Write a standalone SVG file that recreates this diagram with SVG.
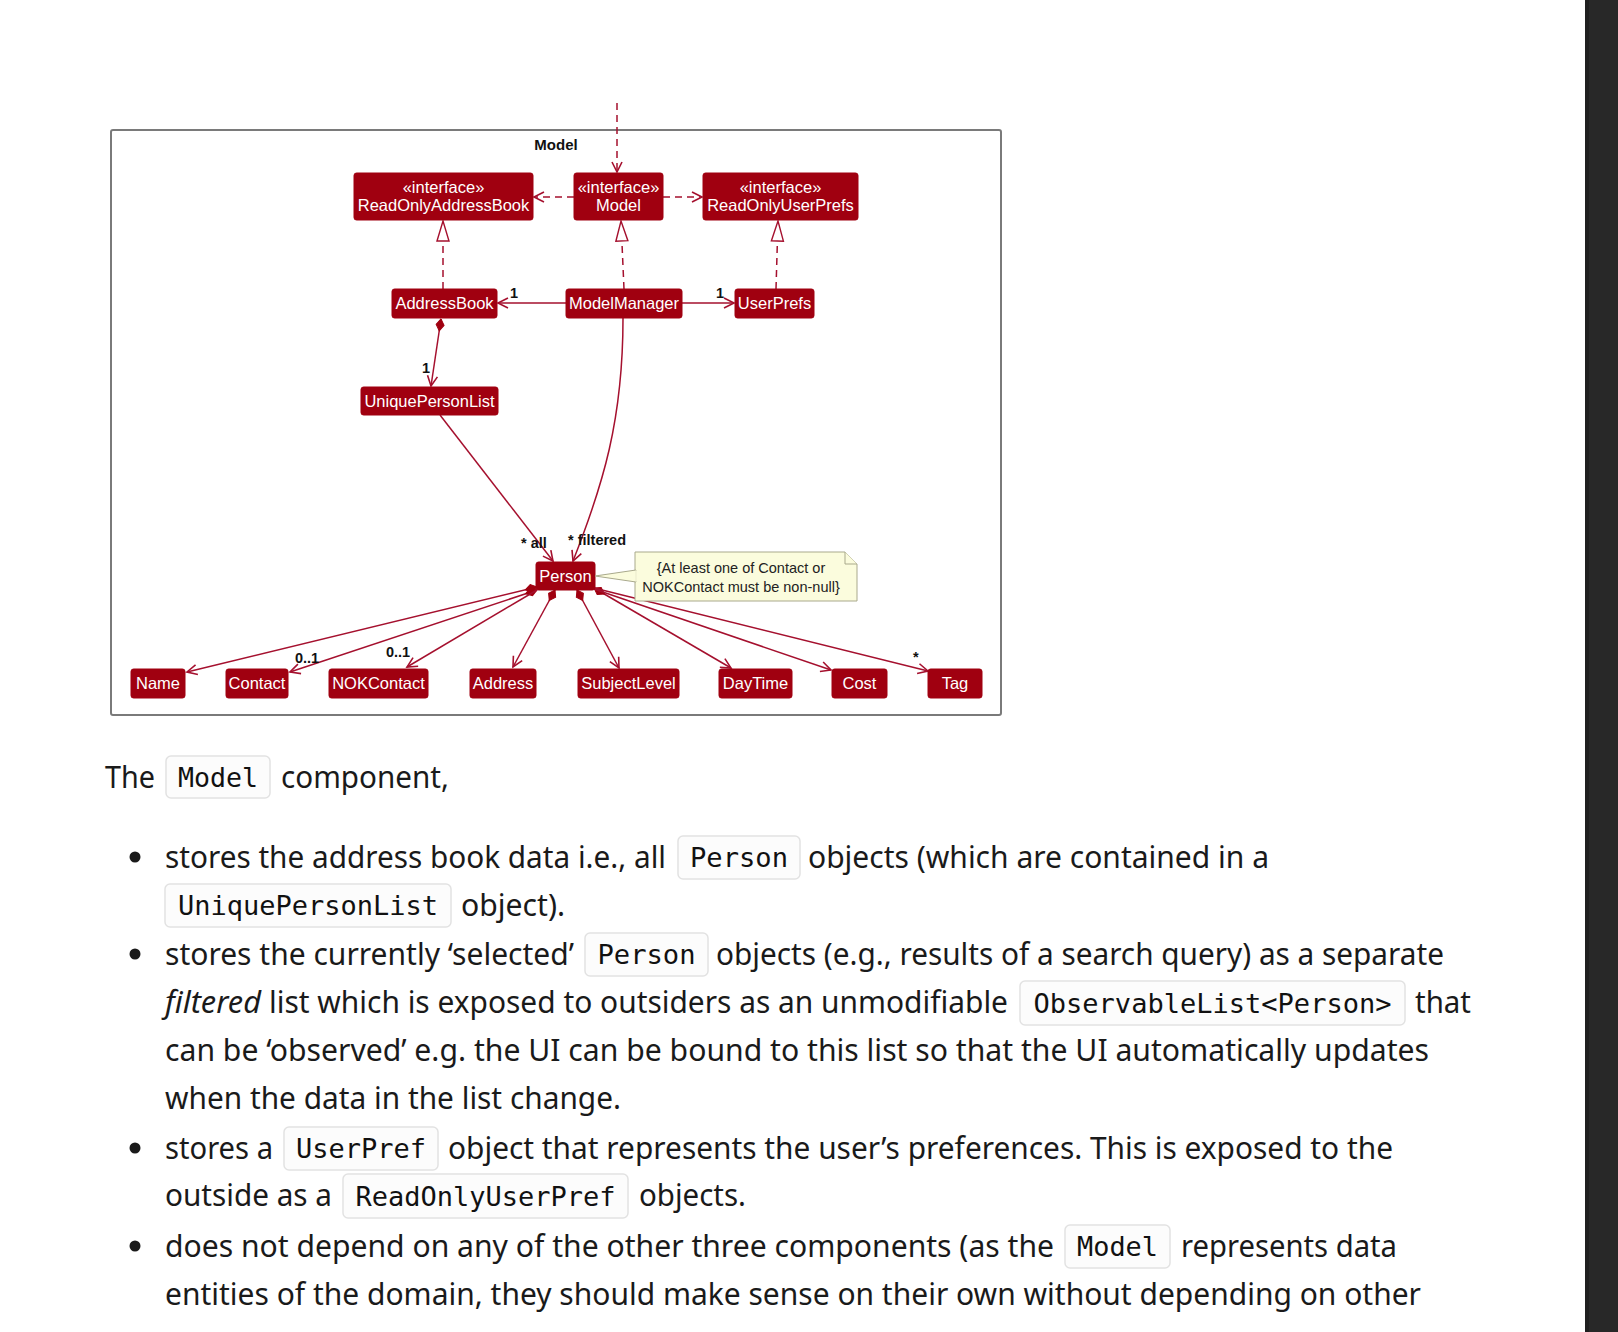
<svg xmlns="http://www.w3.org/2000/svg" width="1618" height="1332" viewBox="0 0 1618 1332">
<style>
.box{fill:#A00010;stroke:#A00010;stroke-width:1}
.bt{font-family:"Liberation Sans",Arial,sans-serif;font-size:16.5px;fill:#ffffff;text-anchor:middle}
.lbl{font-family:"Liberation Sans",Arial,sans-serif;font-size:14.5px;font-weight:bold;fill:#111}
.ln{fill:none;stroke:#A5102E;stroke-width:1.5}
.dash{stroke-dasharray:7,5}
.body{font-family:"Noto Sans","Open Sans",sans-serif;font-size:30px;fill:#1a1a1a}
.code{font-family:"DejaVu Sans Mono","Liberation Mono",monospace;font-size:27px;fill:#111;text-anchor:middle}
.cbox{fill:#fcfcfc;stroke:#e2e2e2;stroke-width:1.5}
.note{fill:#FBFCDD;stroke:#A9A98C;stroke-width:1}
.nt{font-family:"Liberation Sans",Arial,sans-serif;font-size:14.5px;fill:#222;text-anchor:middle}
</style>
<defs>
<marker id="arr" markerUnits="userSpaceOnUse" markerWidth="14" markerHeight="14" refX="11" refY="6" orient="auto" viewBox="0 0 14 12">
<path d="M1,1 L11,6 L1,11" fill="none" stroke="#A5102E" stroke-width="1.6"/>
</marker>
<marker id="tri" markerUnits="userSpaceOnUse" markerWidth="22" markerHeight="16" refX="21" refY="7" orient="auto" viewBox="0 0 22 14">
<path d="M1,1 L21,7 L1,13 Z" fill="#ffffff" stroke="#A5102E" stroke-width="1.4"/>
</marker>
<marker id="dia" markerUnits="userSpaceOnUse" markerWidth="14" markerHeight="10" refX="0.5" refY="5" orient="auto" viewBox="0 0 14 10">
<path d="M0.5,5 L6.5,1 L12.5,5 L6.5,9 Z" fill="#A00010" stroke="#A00010" stroke-width="1"/>
</marker>
</defs>
<rect x="0" y="0" width="1618" height="1332" fill="#ffffff"/>
<rect x="1585" y="0" width="33" height="1332" fill="#282828"/>
<rect x="1585" y="0" width="4" height="1332" fill="#1f1f1f"/>

<g id="frame">
<rect x="111" y="130" width="890" height="585" rx="2" fill="none" stroke="#7a7a7a" stroke-width="2"/>
<text x="556" y="150" font-family="Liberation Sans, Arial, sans-serif" font-size="15" font-weight="bold" fill="#111" text-anchor="middle">Model</text>
</g>

<g id="connectors">
<path class="ln dash" d="M617,103 L617,172" marker-end="url(#arr)"/>
<path class="ln dash" d="M574,197 L534,197" marker-end="url(#arr)"/>
<path class="ln dash" d="M663,197 L702,197" marker-end="url(#arr)"/>
<path class="ln dash" d="M443,289 L443,221" marker-end="url(#tri)"/>
<path class="ln dash" d="M624,289 L621,221" marker-end="url(#tri)"/>
<path class="ln dash" d="M776,289 L778,221" marker-end="url(#tri)"/>
<path class="ln" d="M566,303 L498,303" marker-end="url(#arr)"/>
<path class="ln" d="M682,303 L734,303" marker-end="url(#arr)"/>
<path class="ln" d="M441,319 L431,386" marker-start="url(#dia)" marker-end="url(#arr)"/>
<path class="ln" d="M440,415 L553,561" marker-end="url(#arr)"/>
<path class="ln" d="M623,318 C623,420 603,485 573,561" marker-end="url(#arr)"/>
<path class="ln" d="M537,587 L187,672" marker-start="url(#dia)" marker-end="url(#arr)"/>
<path class="ln" d="M537,590 L290,672" marker-start="url(#dia)" marker-end="url(#arr)"/>
<path class="ln" d="M537,590 L407,667" marker-end="url(#arr)"/>
<path class="ln" d="M555,590 L513,667" marker-start="url(#dia)" marker-end="url(#arr)"/>
<path class="ln" d="M577,590 L619,668" marker-start="url(#dia)" marker-end="url(#arr)"/>
<path class="ln" d="M594,588 L731,668" marker-start="url(#dia)" marker-end="url(#arr)"/>
<path class="ln" d="M594,589 L831,670" marker-end="url(#arr)"/>
<path class="ln" d="M594,588 L928,671" marker-end="url(#arr)"/>
<text class="lbl" x="510" y="298">1</text>
<text class="lbl" x="716" y="298">1</text>
<text class="lbl" x="422" y="373">1</text>
<text class="lbl" x="521" y="548">* all</text>
<text class="lbl" x="568" y="545">* filtered</text>
<text class="lbl" x="295" y="663">0..1</text>
<text class="lbl" x="386" y="657">0..1</text>
<text class="lbl" x="913" y="662">*</text>
</g>

<g id="ReadOnlyAddressBook">
<rect class="box" x="354" y="173" width="179" height="47" rx="2.5"/>
<text class="bt" x="443.5" y="193">«interface»</text>
<text class="bt" x="443.5" y="211">ReadOnlyAddressBook</text>
</g>
<g id="ModelInterface">
<rect class="box" x="574" y="173" width="89" height="47" rx="2.5"/>
<text class="bt" x="618.5" y="193">«interface»</text>
<text class="bt" x="618.5" y="211">Model</text>
</g>
<g id="ReadOnlyUserPrefs">
<rect class="box" x="703" y="173" width="155" height="47" rx="2.5"/>
<text class="bt" x="780.5" y="193">«interface»</text>
<text class="bt" x="780.5" y="211">ReadOnlyUserPrefs</text>
</g>
<g id="AddressBook">
<rect class="box" x="392" y="289" width="105" height="29" rx="2.5"/>
<text class="bt" x="444.5" y="309">AddressBook</text>
</g>
<g id="ModelManager">
<rect class="box" x="566" y="289" width="116" height="29" rx="2.5"/>
<text class="bt" x="624" y="309">ModelManager</text>
</g>
<g id="UserPrefs">
<rect class="box" x="735" y="289" width="79" height="29" rx="2.5"/>
<text class="bt" x="774.5" y="309">UserPrefs</text>
</g>
<g id="UniquePersonList">
<rect class="box" x="361" y="387" width="137" height="28" rx="2.5"/>
<text class="bt" x="429.5" y="407">UniquePersonList</text>
</g>
<g id="Person">
<rect class="box" x="536" y="562" width="59" height="28" rx="2.5"/>
<text class="bt" x="565.5" y="582">Person</text>
</g>
<g id="Note">
<path class="note" d="M635,552 L845,552 L857,564 L857,601 L635,601 Z"/>
<path class="note" d="M845,552 L845,564 L857,564"/>
<polygon points="595,576 636,570 636,582" fill="#FBFCDD" stroke="#A9A98C" stroke-width="1"/>
<line x1="636" y1="570.6" x2="636" y2="581.4" stroke="#FBFCDD" stroke-width="1.6"/>
<text class="nt" x="741" y="573">{At least one of Contact or</text>
<text class="nt" x="741" y="592">NOKContact must be non-null}</text>
</g>
<g id="Name">
<rect class="box" x="131" y="669" width="54" height="29" rx="2.5"/>
<text class="bt" x="158" y="689">Name</text>
</g>
<g id="Contact">
<rect class="box" x="226" y="669" width="62" height="29" rx="2.5"/>
<text class="bt" x="257" y="689">Contact</text>
</g>
<g id="NOKContact">
<rect class="box" x="329" y="669" width="99" height="29" rx="2.5"/>
<text class="bt" x="378.5" y="689">NOKContact</text>
</g>
<g id="Address">
<rect class="box" x="470" y="669" width="66" height="29" rx="2.5"/>
<text class="bt" x="503" y="689">Address</text>
</g>
<g id="SubjectLevel">
<rect class="box" x="578" y="669" width="101" height="29" rx="2.5"/>
<text class="bt" x="628.5" y="689">SubjectLevel</text>
</g>
<g id="DayTime">
<rect class="box" x="719" y="669" width="73" height="29" rx="2.5"/>
<text class="bt" x="755.5" y="689">DayTime</text>
</g>
<g id="Cost">
<rect class="box" x="832" y="669" width="55" height="29" rx="2.5"/>
<text class="bt" x="859.5" y="689">Cost</text>
</g>
<g id="Tag">
<rect class="box" x="928" y="669" width="54" height="29" rx="2.5"/>
<text class="bt" x="955" y="689">Tag</text>
</g>

<g id="text">
<rect class="cbox" x="166" y="756" width="104" height="42" rx="5"/>
<rect class="cbox" x="678" y="836" width="122" height="43" rx="5"/>
<rect class="cbox" x="165" y="884" width="286" height="43" rx="5"/>
<rect class="cbox" x="585" y="933" width="123" height="43" rx="5"/>
<rect class="cbox" x="1020" y="981" width="385" height="44" rx="5"/>
<rect class="cbox" x="284" y="1127" width="154" height="43" rx="5"/>
<rect class="cbox" x="343" y="1174" width="285" height="44" rx="5"/>
<rect class="cbox" x="1065" y="1225" width="105" height="43" rx="5"/>

<text class="code" x="218" y="787" textLength="80" lengthAdjust="spacingAndGlyphs">Model</text>
<text class="code" x="739" y="867" textLength="98" lengthAdjust="spacingAndGlyphs">Person</text>
<text class="code" x="308" y="915" textLength="260" lengthAdjust="spacingAndGlyphs">UniquePersonList</text>
<text class="code" x="646.5" y="964" textLength="98" lengthAdjust="spacingAndGlyphs">Person</text>
<text class="code" x="1212.5" y="1013" textLength="358" lengthAdjust="spacingAndGlyphs">ObservableList&lt;Person&gt;</text>
<text class="code" x="361" y="1158" textLength="130" lengthAdjust="spacingAndGlyphs">UserPref</text>
<text class="code" x="485.5" y="1206" textLength="260" lengthAdjust="spacingAndGlyphs">ReadOnlyUserPref</text>
<text class="code" x="1117.5" y="1256" textLength="81" lengthAdjust="spacingAndGlyphs">Model</text>

<text class="body" x="105" y="788" textLength="50" lengthAdjust="spacingAndGlyphs">The</text>
<text class="body" x="281" y="788" textLength="168" lengthAdjust="spacingAndGlyphs">component,</text>

<circle cx="135" cy="857" r="5.5" fill="#1a1a1a"/>
<text class="body" x="165" y="868" textLength="501" lengthAdjust="spacingAndGlyphs">stores the address book data i.e., all</text>
<text class="body" x="808" y="868" textLength="461" lengthAdjust="spacingAndGlyphs">objects (which are contained in a</text>
<text class="body" x="461" y="916" textLength="104" lengthAdjust="spacingAndGlyphs">object).</text>

<circle cx="135" cy="954" r="5.5" fill="#1a1a1a"/>
<text class="body" x="165" y="965" textLength="409" lengthAdjust="spacingAndGlyphs">stores the currently ‘selected’</text>
<text class="body" x="716" y="965" textLength="728" lengthAdjust="spacingAndGlyphs">objects (e.g., results of a search query) as a separate</text>
<text class="body" x="165" y="1013" font-style="italic" textLength="96" lengthAdjust="spacingAndGlyphs">filtered</text>
<text class="body" x="269" y="1013" textLength="739" lengthAdjust="spacingAndGlyphs">list which is exposed to outsiders as an unmodifiable</text>
<text class="body" x="1415" y="1013" textLength="56" lengthAdjust="spacingAndGlyphs">that</text>
<text class="body" x="165" y="1061" textLength="1264" lengthAdjust="spacingAndGlyphs">can be ‘observed’ e.g. the UI can be bound to this list so that the UI automatically updates</text>
<text class="body" x="165" y="1109" textLength="456" lengthAdjust="spacingAndGlyphs">when the data in the list change.</text>

<circle cx="135" cy="1148" r="5.5" fill="#1a1a1a"/>
<text class="body" x="165" y="1159" textLength="108" lengthAdjust="spacingAndGlyphs">stores a</text>
<text class="body" x="448" y="1159" textLength="945" lengthAdjust="spacingAndGlyphs">object that represents the user’s preferences. This is exposed to the</text>
<text class="body" x="165" y="1206" textLength="167" lengthAdjust="spacingAndGlyphs">outside as a</text>
<text class="body" x="639" y="1206" textLength="107" lengthAdjust="spacingAndGlyphs">objects.</text>

<circle cx="135" cy="1246" r="5.5" fill="#1a1a1a"/>
<text class="body" x="165" y="1257" textLength="889" lengthAdjust="spacingAndGlyphs">does not depend on any of the other three components (as the</text>
<text class="body" x="1181" y="1257" textLength="216" lengthAdjust="spacingAndGlyphs">represents data</text>
<text class="body" x="165" y="1305" textLength="1256" lengthAdjust="spacingAndGlyphs">entities of the domain, they should make sense on their own without depending on other</text>
</g>
</svg>
